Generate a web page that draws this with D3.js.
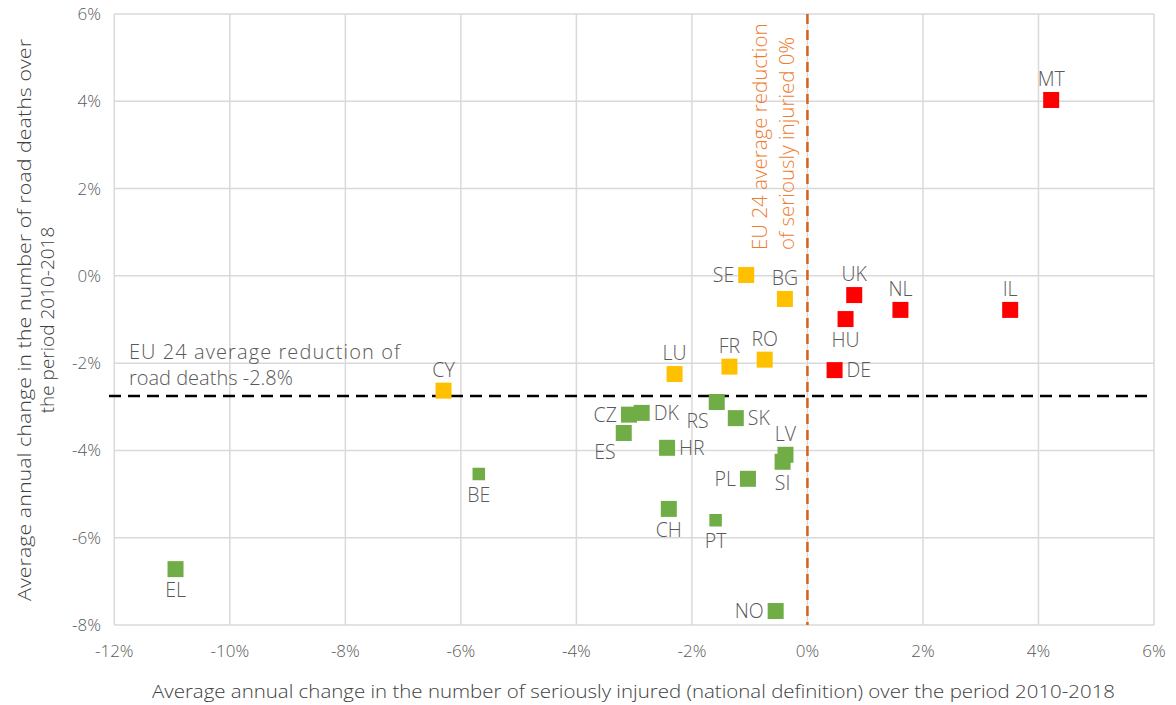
<!DOCTYPE html>
<html>
<head>
<meta charset="utf-8">
<script src="https://cdn.jsdelivr.net/npm/d3@7"></script>
<style>
  body { margin: 0; background: #fff; }
  svg { font-family: "Open Sans", "Noto Sans", sans-serif; font-weight: 300; }
</style>
</head>
<body>
<svg id="chart" width="1176" height="705"></svg>
<script>
// country codes, injured change (x), deaths change (y)
const countries = ["MT", "NL", "IL", "UK", "HU", "DE",
    "SE", "BG", "RO", "FR", "LU", "CY",
    "RS", "SK", "CZ", "DK", "ES", "HR", "LV", "SI", "PL", "BE", "EL", "CH", "PT", "NO"];
const injuredChange = [4.22, 1.61, 3.51, 0.81, 0.66, 0.47,
    -1.06, -0.39, -0.74, -1.35, -2.30, -6.30,
    -1.57, -1.24, -3.09, -2.87, -3.18, -2.43, -0.38, -0.43, -1.03, -5.69, -10.94, -2.40, -1.59, -0.55];
const deathsChange = [4.03, -0.78, -0.78, -0.44, -0.99, -2.16,
    0.02, -0.53, -1.92, -2.08, -2.25, -2.63,
    -2.89, -3.26, -3.18, -3.14, -3.60, -3.94, -4.10, -4.26, -4.65, -4.54, -6.72, -5.34, -5.60, -7.68];
// group: 0 = red, 1 = yellow, 2 = green
const group = [0, 0, 0, 0, 0, 0,
    1, 1, 1, 1, 1, 1,
    2, 2, 2, 2, 2, 2, 2, 2, 2, 2, 2, 2, 2, 2];
const labelSide = ["top", "top", "top", "top", "bottom", "right",
    "left", "top", "top", "top", "top", "top",
    "bottomleft", "right", "left", "right", "bottomleft", "right", "top", "bottom", "left", "bottom", "bottom", "bottom", "bottom", "left"];
const smallMarker = ["BE", "PT"];

const xTicks = [-12, -10, -8, -6, -4, -2, 0, 2, 4, 6];
const yTicks = [-8, -6, -4, -2, 0, 2, 4, 6];
const euDeathsAvg = -2.75;   // labelled -2.8%
const euInjuredAvg = 0;

const colors = ["#FF0000", "#FFC000", "#70AD47"];

const svg = d3.select("#chart");

const x = d3.scaleLinear().domain([-12, 6]).range([114.3, 1154]);
const y = d3.scaleLinear().domain([-8, 6]).range([625, 14]);
const pct = d => d + "%";

// grid
svg.append("g").selectAll("line")
    .data(xTicks).join("line")
    .attr("x1", d => x(d)).attr("x2", d => x(d))
    .attr("y1", y(6)).attr("y2", y(-8))
    .attr("stroke", "#D9D9D9").attr("stroke-width", 1.5);
svg.append("g").selectAll("line")
    .data(yTicks).join("line")
    .attr("y1", d => y(d)).attr("y2", d => y(d))
    .attr("x1", x(-12)).attr("x2", x(6))
    .attr("stroke", "#D9D9D9").attr("stroke-width", 1.5);

// tick labels
svg.append("g").selectAll("text")
    .data(xTicks).join("text")
    .attr("x", d => x(d)).attr("y", 657)
    .attr("text-anchor", "middle")
    .attr("font-size", 17).attr("fill", "#595959")
    .text(pct);
svg.append("g").selectAll("text")
    .data(yTicks).join("text")
    .attr("x", 101).attr("y", d => y(d) + 6)
    .attr("text-anchor", "end")
    .attr("font-size", 17).attr("fill", "#595959")
    .text(pct);

// axis titles
svg.append("text")
    .attr("x", 152).attr("y", 698)
    .attr("textLength", 963).attr("lengthAdjust", "spacingAndGlyphs")
    .attr("font-size", 19).attr("fill", "#404040")
    .text("Average annual change in the number of seriously injured (national definition) over the period 2010-2018");
const yTitle = svg.append("text")
    .attr("transform", "translate(0,320) rotate(-90)")
    .attr("text-anchor", "middle")
    .attr("font-size", 19).attr("fill", "#404040");
yTitle.append("tspan").attr("x", 0).attr("y", 31)
    .attr("textLength", 562).attr("lengthAdjust", "spacingAndGlyphs")
    .text("Average annual change in the number of road deaths over");
yTitle.append("tspan").attr("x", 0).attr("y", 54)
    .text("the period 2010-2018");

// EU average lines
svg.append("line")
    .attr("x1", 109).attr("x2", x(6))
    .attr("y1", y(euDeathsAvg)).attr("y2", y(euDeathsAvg))
    .attr("stroke", "#000").attr("stroke-width", 2.5)
    .attr("stroke-dasharray", "12,7");
svg.append("line")
    .attr("x1", x(euInjuredAvg)).attr("x2", x(euInjuredAvg))
    .attr("y1", y(6)).attr("y2", y(-8))
    .attr("stroke", "#D0661E").attr("stroke-width", 2.5)
    .attr("stroke-dasharray", "10,6");

// EU average labels
const hLab = svg.append("text")
    .attr("font-size", 20).attr("fill", "#595959");
hLab.append("tspan").attr("x", 129).attr("y", 359)
    .attr("textLength", 271).attr("lengthAdjust", "spacing")
    .text("EU 24 average reduction of");
hLab.append("tspan").attr("x", 129).attr("y", 385)
    .text("road deaths -2.8%");

const vLab = svg.append("text")
    .attr("transform", `translate(0,250) rotate(-90)`)
    .attr("font-size", 20.5).attr("fill", "#ED7D31");
vLab.append("tspan").attr("x", 0).attr("y", 767)
    .text("EU 24 average reduction");
vLab.append("tspan").attr("x", 0).attr("y", 794)
    .text("of seriously injuried 0%");

// points
const data = countries.map((c, i) => ({
    code: c, x: injuredChange[i], y: deathsChange[i], g: group[i], side: labelSide[i]
}));

svg.append("g").selectAll("rect")
    .data(data).join("rect")
    .each(function (d) {
        const s = smallMarker.includes(d.code) ? 12.5 : 16;
        d3.select(this)
            .attr("x", x(d.x) - s / 2).attr("y", y(d.y) - s / 2)
            .attr("width", s).attr("height", s);
    })
    .attr("fill", d => colors[d.g]);

const offsets = {
    top: [0, -14, "middle"],
    bottom: [0, 28, "middle"],
    left: [-12, 7, "end"],
    right: [12, 7, "start"],
    bottomleft: [-8, 26, "end"]
};

svg.append("g").selectAll("text")
    .data(data).join("text")
    .attr("x", d => x(d.x) + offsets[d.side][0])
    .attr("y", d => y(d.y) + offsets[d.side][1])
    .attr("text-anchor", d => offsets[d.side][2])
    .attr("font-size", 19.5).attr("fill", "#595959")
    .text(d => d.code);
</script>
</body>
</html>
